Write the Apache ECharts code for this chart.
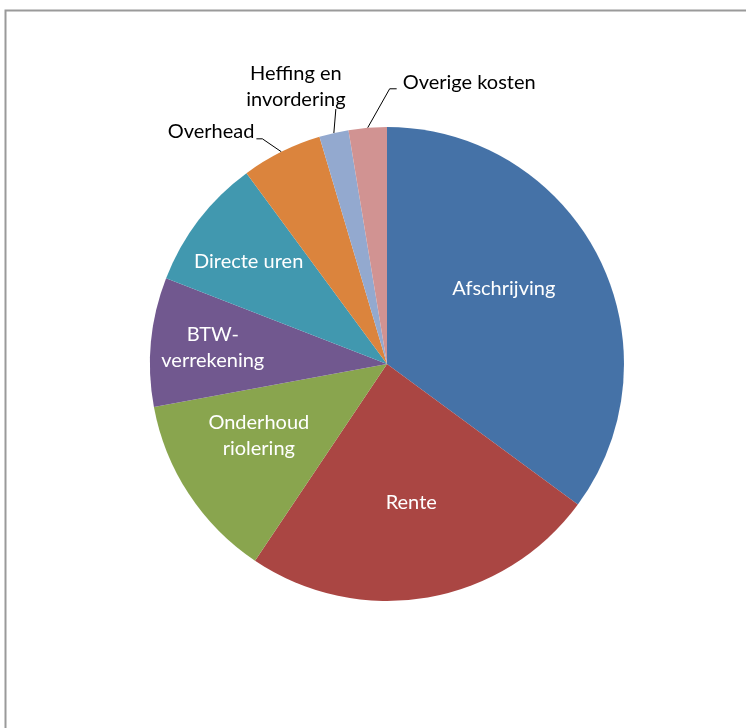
<!DOCTYPE html>
<html>
<head>
<meta charset="utf-8">
<script src="https://cdn.jsdelivr.net/npm/echarts@6/dist/echarts.min.js"></script>
<style>
html,body{margin:0;padding:0;background:#fff;}
#chart{width:746px;height:728px;}
</style>
</head>
<body>
<div id="chart"></div>
<script>
// Data
const categories = ['Afschrijving', 'Rente', 'Onderhoud riolering', 'BTW-verrekening', 'Directe uren', 'Overhead', 'Heffing en invordering', 'Overige kosten'];
const labelTexts = ['Afschrijving', 'Rente', 'Onderhoud\nriolering', 'BTW-\nverrekening', 'Directe uren', 'Overhead', 'Heffing en\ninvordering', 'Overige kosten'];
const values = [35.1, 24.3, 12.7, 8.8, 9.0, 5.5, 2.0, 2.6];

// Styling
const colors = ['#4572A7', '#AA4643', '#89A54E', '#71588F', '#4198AF', '#DB843D', '#93A9CF', '#D19392'];
const CX = 387, CY = 364, R = 237;
const FONT = 'Lato';
// inside label placement: distance from centre, angular shift (deg)
const insideDist = [139, 141, 147, 175, 172];
const insideShift = [-6, 0, 4, 0, -1];
// outside label: offsets relative to the slice edge anchor
const outsideLayout = {
  5: {line: [[-19, -13], [-25, -13]], text: [-27, -20], align: 'right'},
  6: {line: [[1, -12], [2, -24]], text: [-38, -46], align: 'center'},
  7: {line: [[22, -39], [29, -39]], text: [35, -45], align: 'left'}
};

const total = values.reduce((a, b) => a + b, 0);
const midAngles = [];
let acc = 0;
values.forEach(v => { midAngles.push((acc + v / 2) / total * 360); acc += v; });

function polar(angleDeg, d) {
  const a = angleDeg * Math.PI / 180;
  return [CX + d * Math.sin(a), CY - d * Math.cos(a)];
}

const data = categories.map((c, i) => {
  const inside = i < 5;
  return {
    name: c,
    value: values[i],
    itemStyle: {color: colors[i]},
    label: {
      show: true,
      position: inside ? 'inside' : 'outside',
      formatter: labelTexts[i],
      color: inside ? '#ffffff' : '#000000'
    },
    labelLine: {show: !inside, lineStyle: {color: '#000', width: 1}}
  };
});

const chart = echarts.init(document.getElementById('chart'), null, {renderer: 'canvas'});
chart.setOption({
  animation: false,
  backgroundColor: '#ffffff',
  graphic: [{
    type: 'rect',
    shape: {x: 5.5, y: 10.5, width: 800, height: 800},
    style: {fill: 'none', stroke: '#9a9a9a', lineWidth: 2},
    silent: true
  }],
  series: [{
    type: 'pie',
    center: [CX, CY],
    radius: R,
    startAngle: 90,
    clockwise: true,
    avoidLabelOverlap: false,
    itemStyle: {borderWidth: 0},
    label: {fontFamily: FONT, fontSize: 20, lineHeight: 26},
    labelLine: {length: 20, length2: 6},
    emphasis: {disabled: true},
    data: data,
    labelLayout: function (p) {
      const i = p.dataIndex;
      if (i < 5) {
        const pt = polar(midAngles[i] + insideShift[i], insideDist[i]);
        return {x: pt[0], y: pt[1], align: 'center', verticalAlign: 'middle'};
      }
      const L = outsideLayout[i];
      const a = polar(midAngles[i], R);
      return {
        x: a[0] + L.text[0],
        y: a[1] + L.text[1],
        align: L.align,
        verticalAlign: 'middle',
        labelLinePoints: [a, [a[0] + L.line[0][0], a[1] + L.line[0][1]], [a[0] + L.line[1][0], a[1] + L.line[1][1]]]
      };
    }
  }]
});
</script>
</body>
</html>
